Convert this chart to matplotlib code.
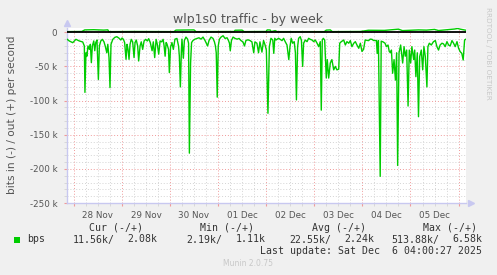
import matplotlib
matplotlib.use("Agg")
import matplotlib.pyplot as plt
from matplotlib.ticker import MultipleLocator, FuncFormatter
from matplotlib.patches import Rectangle

# hours since 28 Nov 00:00 and inbound traffic (kbit/s, drawn negative)
in_hours = [
    -3.4, -2.2, -0.5, 1.1, 2.8, 4.5, 5.3, 5.6, 6.1, 6.6, 7.1, 7.8, 8.3, 8.8, 9.3, 10.0, 10.5, 11.0,
    11.6, 12.3, 12.8, 13.5, 14.3, 15.1, 15.8, 16.5, 17.0, 17.6, 18.1, 18.6, 19.5, 20.5, 21.5, 22.5,
    23.5, 24.1, 24.8, 25.4, 26.1, 26.6, 27.1, 27.6, 28.1, 28.7, 29.4, 30.1, 30.6, 31.2, 31.9, 32.4,
    33.1, 33.7, 34.4, 35.1, 35.9, 36.7, 37.4, 38.2, 39.1, 39.7, 40.4, 41.1, 41.7, 42.4, 43.1, 43.9,
    44.6, 45.1, 45.6, 46.1, 46.5, 47.3, 47.7, 48.3, 49.0, 49.7, 50.5, 51.5, 52.3, 52.7, 53.2, 53.7,
    54.0, 54.7, 55.2, 56.0, 56.8, 57.3, 57.7, 58.3, 58.8, 59.5, 60.5, 61.5, 62.5, 63.5, 64.5, 65.5,
    66.8, 67.5, 68.5, 69.5, 70.2, 70.7, 71.1, 71.6, 72.1, 72.7, 73.5, 74.5, 75.5, 76.5, 77.2, 77.7,
    78.1, 78.7, 79.5, 80.5, 81.5, 82.5, 83.4, 84.4, 85.2, 85.9, 86.9, 87.9, 88.9, 89.8, 90.4, 91.4,
    92.2, 92.9, 93.9, 94.7, 95.4, 96.1, 96.9, 97.6, 98.4, 99.3, 99.8, 100.3, 100.9, 102.2, 103.0,
    103.9, 104.7, 105.5, 106.4, 107.3, 107.9, 108.5, 109.2, 110.0, 110.6, 111.1, 111.7, 112.2,
    113.0, 113.6, 114.2, 114.7, 115.5, 116.4, 117.2, 118.0, 118.9, 119.7, 120.5, 121.4, 122.2,
    123.0, 123.5, 124.0, 124.5, 125.2, 126.0, 126.5, 127.2, 128.0, 128.8, 129.7, 130.5, 131.3,
    132.2, 132.7, 133.5, 134.7, 135.5, 136.3, 137.2, 138.0, 138.8, 139.7, 140.5, 141.3, 142.2,
    143.0, 143.8, 144.6, 145.4, 147.1, 147.9, 148.8, 149.6, 151.0, 151.4, 152.0, 152.9, 153.4,
    154.3, 155.3, 156.0, 156.8, 157.4, 158.0, 158.5, 159.1, 159.8, 160.5, 161.1, 161.6, 162.3,
    163.1, 164.1, 164.8, 165.4, 166.1, 166.8, 167.4, 168.1, 168.7, 169.6, 170.1, 170.7, 171.4,
    172.0, 172.6, 173.4, 174.1, 174.7, 175.4, 176.2, 176.7, 177.4, 178.4, 179.4, 180.4, 181.2,
    182.0, 182.8, 183.7, 184.5, 185.3, 186.2, 187.0, 187.8, 188.7, 189.5, 190.3, 191.2, 192.0,
    192.8, 193.6, 194.3, 195.0, 195.7,
]
in_kbps = [
    10, 12.7, 15.2, 10.3, 12.7, 14.2, 20, 88, 30, 35, 20, 25, 17.6, 44.5, 20, 12.7, 27, 15,
    11.3, 69, 20, 12.7, 10.3, 14, 21, 30, 17.6, 37, 81, 17.6, 10.3, 7.4, 6.4, 8.4,
    11.3, 8.4, 10.3, 15, 39.6, 17.6, 25, 39.6, 17.6, 10.3, 14, 37, 15, 11.3, 20, 42,
    20, 14, 25, 12.7, 10.3, 12.7, 9.3, 15, 27, 14, 37, 10.3, 17.6, 32, 12.7, 14,
    10.3, 20, 35, 15, 17, 25, 59, 22, 15, 25, 10, 9, 20, 35, 80, 28,
    10, 38, 12, 7, 10, 16, 177, 45, 15, 12, 10, 9, 8, 10, 7, 12,
    20, 12, 7, 9, 14, 20, 30, 95, 20, 10, 7, 5, 9, 8, 12, 16,
    27, 12, 7, 9, 10, 9, 12, 14, 20, 12, 11, 12, 14, 30, 14, 16,
    30, 14, 29, 12, 18, 26, 118.6, 21, 8.8, 11.3, 30.8, 8.8, 11.3, 8.8, 10.3,
    12.2, 8.8, 13.7, 18.6, 40, 21, 8.8, 16, 13.7, 30, 99, 21, 8.8,
    6.4, 12, 50, 16, 11.3, 13.7, 8.8, 10.3, 11.3, 13.7, 11.3, 16, 21,
    13.7, 114, 11.3, 8.8, 11.3, 67, 40, 67, 45, 40, 55, 50, 55,
    54, 16, 13.7, 11.3, 18.6, 13.7, 16, 12.2, 21, 16, 13.7, 18.6, 23.4,
    16, 28, 25, 11.3, 12.2, 10, 10.3, 12, 12, 31, 12, 211, 13,
    14, 16, 21, 18.6, 28, 30, 26, 60, 40, 70, 30, 195, 30,
    18.6, 45, 21, 35, 26, 108, 26, 45, 21, 40, 26, 65, 30,
    123.6, 35.7, 26, 55, 21, 35.7, 80, 21, 16, 18.6, 14, 12, 21,
    26, 18.6, 16, 17, 21, 13.7, 18.6, 20, 12.2, 16, 21, 13.7, 23.4,
    28.4, 30.8, 40.6, 11.3, 10,
]

# outbound traffic (kbit/s, drawn positive)
out_hours = [-3.4, 4, 5.5, 10, 15, 17, 17.5, 30, 50, 51, 60, 61, 80, 80.5, 84, 85, 96, 96.5,
             98, 98.5, 100.5, 101.5, 125, 126, 128, 129, 143, 147, 155, 162, 164, 172, 176,
             180, 182, 190, 191.5, 193, 195.7]
out_kbps = [1.0, 1.2, 3.5, 3.8, 3.2, 3.6, 1.0, 1.2, 1.0, 3.2, 3.5, 1.0, 1.2, 3.0, 3.2, 1.0, 1.2, 3.5,
            3.4, 1.0, 2.5, 1.0, 1.0, 3.2, 3.5, 1.0, 1.2, 3.0, 2.8, 4.6, 2.5, 3.5, 3.2,
            4.2, 2.6, 4.8, 5.6, 4.5, 3.0]

day_labels = ["28 Nov", "29 Nov", "30 Nov", "01 Dec", "02 Dec", "03 Dec", "04 Dec", "05 Dec"]
y_ticks = [0, -50000, -100000, -150000, -200000, -250000]
y_labels = ["0", "-50 k", "-100 k", "-150 k", "-200 k", "-250 k"]

W, H = 497, 275
fig = plt.figure(figsize=(W / 100, H / 100), dpi=100, facecolor="#F0F0F0")
ax = fig.add_axes([67 / W, 1 - 203 / H, 399 / W, 175 / H])
ax.set_facecolor("white")

green = "#00CC00"
ax.plot(in_hours, [-v * 1000 for v in in_kbps], color=green, lw=1.0, zorder=4)
ax.plot(out_hours, [v * 1000 for v in out_kbps], color=green, lw=1.0, zorder=4)
ax.axhline(0, color="black", lw=1.3, zorder=5)

ax.set_xlim(-3.35, 195.7)
ax.set_ylim(-250000, 6300)

# grid: red at day / 50k, grey dotted at 6h / 10k
ax.xaxis.set_major_locator(MultipleLocator(24))
ax.xaxis.set_minor_locator(MultipleLocator(6))
ax.xaxis.set_major_formatter(FuncFormatter(lambda v, p: ""))
ax.xaxis.set_minor_formatter(FuncFormatter(
    lambda v, p: day_labels[int(v // 24)] if (v % 24 == 12 and 0 <= v // 24 < len(day_labels)) else ""))
ax.set_yticks(y_ticks)
ax.set_yticklabels(y_labels)
ax.yaxis.set_minor_locator(MultipleLocator(10000))

ax.grid(which="minor", color="#D4D4D4", linestyle=(0, (1, 2)), lw=0.7, zorder=1)
ax.grid(which="major", color="#F09A9A", linestyle=(0, (1, 2)), lw=0.7, zorder=2)

ax.tick_params(which="both", length=2, colors="#555555", labelsize=6.3)
ax.tick_params(axis="x", which="minor", pad=4)
ax.tick_params(axis="y", which="major", pad=5)
ax.tick_params(which="major", color="#F09A9A")
ax.tick_params(which="minor", color="#D4D4D4")

for s in ["top", "right"]:
    ax.spines[s].set_visible(False)
for s in ["left", "bottom"]:
    ax.spines[s].set_color("#C8C8F0")
    ax.spines[s].set_linewidth(1.0)
ax.plot([0], [1 + 5 / 175], marker="^", color="#C8C8F0", ms=4.5, transform=ax.transAxes, clip_on=False)
ax.plot([1 + 5 / 399], [0], marker=">", color="#C8C8F0", ms=4.5, transform=ax.transAxes, clip_on=False)

fig.text(248 / W, 1 - 19 / H, "wlp1s0 traffic - by week", ha="center", va="center",
         fontsize=9, color="#555555")
fig.text(12 / W, 1 - 115 / H, "bits in (-) / out (+) per second", rotation=90,
         ha="center", va="center", fontsize=7.6, color="#555555")
fig.text(488 / W, 1 - 53 / H, "RRDTOOL / TOBI OETIKER", rotation=-90, ha="center", va="center",
         fontsize=5.2, color="#C8C8C8")

mono = dict(family="DejaVu Sans Mono", fontsize=7.1, color="#333333", va="center")
for x, s in [(89.3, "Cur (-/+)"), (200, "Min (-/+)"), (312, "Avg (-/+)"), (423, "Max (-/+)")]:
    fig.text(x / W, 1 - 228 / H, s, ha="left", **mono)
fig.text(26.7 / W, 1 - 239.5 / H, "bps", ha="left", **mono)
cols = [(114.5, "11.56k/", 157.7, "2.08k"), (222, "2.19k/", 266, "1.11k"),
        (331, "22.55k/", 374.3, "2.24k"), (439, "513.88k/", 482, "6.58k")]
for x1, s1, x2, s2 in cols:
    fig.text(x1 / W, 1 - 239.5 / H, s1, ha="right", **mono)
    fig.text(x2 / W, 1 - 239.5 / H, s2, ha="right", **mono)
fig.text(482 / W, 1 - 251 / H, "Last update: Sat Dec  6 04:00:27 2025", ha="right", **mono)
fig.patches.append(Rectangle((14 / W, 1 - 242.5 / H), 6 / W, 6 / H, transform=fig.transFigure,
                             facecolor=green, edgecolor="none"))
fig.text(248 / W, 1 - 264 / H, "Munin 2.0.75", ha="center", va="center", fontsize=5.5, color="#C8C8C8")

fig.savefig("out.png", dpi=100, facecolor=fig.get_facecolor())
